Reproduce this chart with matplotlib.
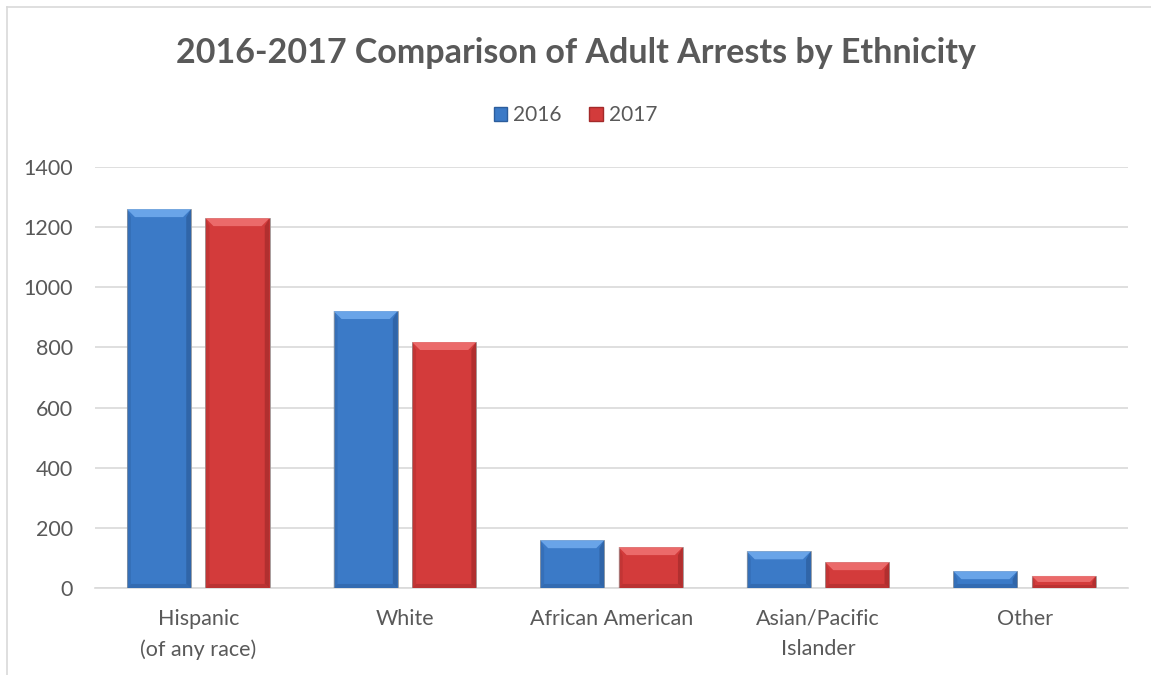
import matplotlib
matplotlib.use("Agg")
import matplotlib.pyplot as plt
from matplotlib.patches import Polygon, Patch
import numpy as np

categories = ["Hispanic\n(of any race)", "White", "African American", "Asian/Pacific\nIslander", "Other"]
arrests_2016 = [1260, 921, 159, 122, 56]
arrests_2017 = [1230, 818, 136, 86, 40]
series_labels = ["2016", "2017"]
y_ticks = [0, 200, 400, 600, 800, 1000, 1200, 1400]

TEXT = "#595959"
GRID = "#d9d9d9"
# face, light (top bevel), dark (sides)
BLUE = ("#3b7ac7", "#6fa9ec", "#2c5d9c")
RED = ("#d33b3b", "#ee7070", "#a32a2a")

plt.rcParams["font.family"] = ["Lato", "DejaVu Sans"]

fig = plt.figure(figsize=(11.51, 6.75), dpi=100)
ax = fig.add_axes([0.0825, 0.1289, 0.8975, 0.6237])

x = np.arange(len(categories))
w = 0.31
off = 0.19
bars16 = ax.bar(x - off, arrests_2016, w, color=BLUE[0], zorder=3)
bars17 = ax.bar(x + off, arrests_2017, w, color=RED[0], zorder=3)

ax.set_xlim(-0.5, len(categories) - 0.5)
ax.set_ylim(0, 1400)
ax.set_yticks(y_ticks)
ax.set_xticks(x)
ax.set_xticklabels(categories, linespacing=1.65)
ax.tick_params(axis="both", length=0, labelsize=15.5, colors=TEXT)
ax.tick_params(axis="x", pad=15)
ax.tick_params(axis="y", pad=16)
ax.yaxis.grid(True, color=GRID, linewidth=1.2, zorder=0)
for s in ["top", "right", "left"]:
    ax.spines[s].set_visible(False)
ax.spines["bottom"].set_color(GRID)
ax.spines["bottom"].set_linewidth(1.2)


def bevel(bars, cols, b=8):
    # b = bevel size in pixels
    fig.canvas.draw()
    inv = ax.transData.inverted()
    for r in bars:
        x0, y0 = ax.transData.transform((r.get_x(), 0))
        x1, y1 = ax.transData.transform((r.get_x() + r.get_width(), r.get_height()))
        bb = min(b, (y1 - y0) / 2)
        pieces = [
            ([(x0, y1), (x1, y1), (x1 - bb, y1 - bb), (x0 + bb, y1 - bb)], cols[1], 0.9),
            ([(x0, y0), (x0, y1), (x0 + bb * 0.5, y1 - bb), (x0 + bb * 0.5, y0 + bb * 0.5)], cols[2], 0.35),
            ([(x1, y0), (x1, y1), (x1 - bb * 0.6, y1 - bb), (x1 - bb * 0.6, y0 + bb * 0.5)], cols[2], 0.7),
            ([(x0, y0), (x1, y0), (x1 - bb * 0.6, y0 + bb * 0.5), (x0 + bb * 0.5, y0 + bb * 0.5)], cols[2], 0.5),
        ]
        for pts, c, a in pieces:
            ax.add_patch(Polygon(inv.transform(pts), closed=True, facecolor=c,
                                 edgecolor="none", zorder=4, alpha=a))
        r.set_edgecolor("#a0a0a0")
        r.set_linewidth(0.6)


bevel(bars16, BLUE)
bevel(bars17, RED)

fig.text(0.5, 1 - 53 / 675, "2016-2017 Comparison of Adult Arrests by Ethnicity",
         ha="center", va="center", fontsize=24.5, fontweight="bold", color=TEXT)

handles = [Patch(facecolor=BLUE[0], edgecolor=BLUE[2]), Patch(facecolor=RED[0], edgecolor=RED[2])]
leg = fig.legend(handles, series_labels, loc="center", bbox_to_anchor=(0.5, 1 - 115 / 675),
                 ncol=2, frameon=False, fontsize=15, handlelength=0.65, handleheight=0.65,
                 handletextpad=0.3, columnspacing=1.3)
for t in leg.get_texts():
    t.set_color(TEXT)

# chart frame (left and top edges)
fig.add_artist(plt.Line2D([7 / 1151, 7 / 1151], [0, 1 - 7 / 675], color=GRID, linewidth=1.2))
fig.add_artist(plt.Line2D([7 / 1151, 1], [1 - 7 / 675, 1 - 7 / 675], color=GRID, linewidth=1.2))

fig.savefig("out.png", dpi=100)
